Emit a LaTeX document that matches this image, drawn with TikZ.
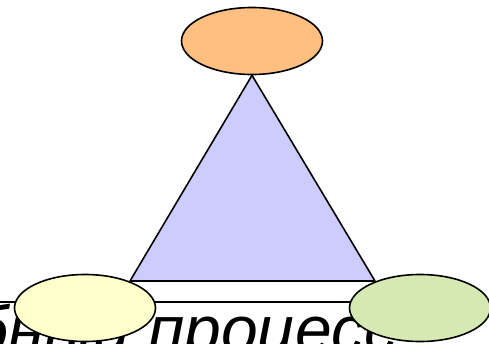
\documentclass[tikz,border=0pt]{standalone}
\usepackage{fontspec}
\setmainfont{Liberation Sans}
\usetikzlibrary{shapes.geometric, positioning}
\definecolor{topfill}{HTML}{FFBF80}
\definecolor{trifill}{HTML}{CCCCFF}
\definecolor{leftfill}{HTML}{FFFFCC}
\definecolor{rightfill}{HTML}{D7E9B2}

\begin{document}
\begin{tikzpicture}[x=1pt, y=-1pt,
    vertex/.style={ellipse, draw, line width=1.6pt, minimum width=141pt, minimum height=67pt, inner sep=0pt}]
    \useasboundingbox (0,0) rectangle (489,343);
    \clip (0,0) rectangle (489,343);
    % Top vertex and triangle
    \node[vertex, fill=topfill] (top) at (252,41) {};
    \coordinate (baseleft) at (130,281);
    \coordinate (baseright) at (375,281);
    \draw[line width=1.6pt, fill=trifill, line join=round] (top.south) -- (baseright) -- (baseleft) -- cycle;
    % Caption box (cut by the frame)
    \draw[line width=2pt, fill=white] (-10,302) rectangle (499,400);
    \node[anchor=base west, inner sep=0pt, font=\fontsize{66}{70}\selectfont\itshape] (caption) at (148,352) {\llap{Учебный }процесс};
    % Bottom vertices
    \node[vertex, fill=leftfill] (left) at (85,308) {};
    \node[vertex, fill=rightfill] (right) at (420,308) {};
\end{tikzpicture}
\end{document}
